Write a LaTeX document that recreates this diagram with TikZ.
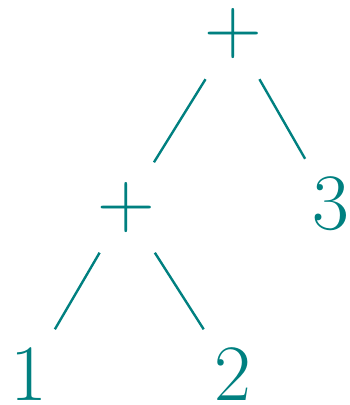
\documentclass[tikz,border=0pt]{standalone}
\begin{document}
\begin{tikzpicture}[x=1pt,y=-1pt,
  lbl/.style={text=teal, font=\fontsize{80}{90}\selectfont, minimum height=90pt, minimum width=70pt, inner sep=0pt},
  edge/.style={draw=teal, line width=2.4pt}]
\useasboundingbox (0,0) rectangle (349,405);
\node[lbl] (r) at (233.5,34) {+};
\node[lbl] (p) at (126,207.5) {+};
\node[lbl] (t) at (331,204) {3};
\node[lbl] (a) at (28.5,374.5) {1};
\node[lbl] (b) at (232.5,374.5) {2};
\draw[edge] (r) -- (p);
\draw[edge] (r) -- (t);
\draw[edge] (p) -- (a);
\draw[edge] (p) -- (b);
\end{tikzpicture}
\end{document}
